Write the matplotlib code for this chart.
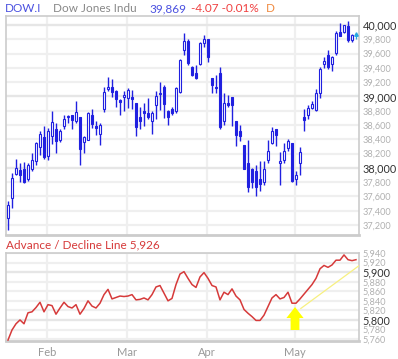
import matplotlib.pyplot as plt
from matplotlib.patches import FancyArrow

plt.rcParams['font.family'] = ['Lato', 'DejaVu Sans']

# daily candles, Jan 18 .. May 21 (trading days)
opens = [37298, 37578, 37914, 37970, 37980, 37849, 37989, 38091, 38297, 38428,
         38166, 38446, 38549, 38390, 38586, 38710, 38735, 38661, 38707, 38362,
         38390, 38745, 38586, 38474, 38829, 39100, 39137, 39081, 38950, 38996,
         38978, 38987, 38903, 38717, 38791, 38773, 38651, 38875, 39034, 39137,
         38800, 38829, 38801, 39062, 39650, 39771, 39417, 39333, 39454, 39753,
         39799, 39258, 39137, 39333, 38651, 38913, 38987, 38661, 38521, 38325,
         38073, 37988, 37951, 37849, 37802, 38110, 38353, 38549, 38063, 38110,
         38278, 38343, 37839, 38063, 38710, 38745, 38838, 38810, 39053, 39454,
         39585, 39454, 39603, 39902, 39902, 39986, 39790]
highs = [37531, 37933, 38119, 38073, 38082, 38073, 38213, 38362, 38511, 38586,
         38558, 38791, 38623, 38549, 38745, 38745, 38745, 38931, 38707, 38446,
         38782, 38819, 38661, 38623, 39137, 39277, 39239, 39090, 38959, 39071,
         39118, 39090, 38903, 38857, 38903, 38978, 38791, 39071, 39202, 39155,
         38810, 38847, 39137, 39529, 39883, 39809, 39430, 39435, 39762, 39855,
         39809, 39258, 39305, 39417, 39043, 39015, 38990, 38661, 38595, 38325,
         38390, 37998, 38045, 38091, 38101, 38390, 38567, 38549, 38222, 38343,
         38409, 38353, 37951, 38297, 38820, 38885, 38941, 39100, 39407, 39547,
         39650, 39566, 39921, 40033, 40005, 40061, 39874]
lows = [37130, 37443, 37895, 37802, 37783, 37811, 37951, 38045, 38175, 38119,
        38110, 38334, 38213, 38362, 38549, 38633, 38549, 38633, 38035, 38213,
        38390, 38558, 38455, 38325, 38782, 39071, 38996, 38857, 38735, 38791,
        38838, 38829, 38446, 38549, 38586, 38679, 38474, 38689, 38810, 38698,
        38605, 38735, 38763, 39043, 39575, 39445, 39280, 39239, 39445, 39697,
        39482, 39043, 39053, 38549, 38605, 38847, 38586, 38306, 38371, 37979,
        37662, 37718, 37606, 37671, 37765, 38063, 38334, 38306, 37755, 38073,
        38241, 37802, 37764, 37895, 38510, 38679, 38829, 38791, 38978, 39398,
        39389, 39351, 39585, 39846, 39883, 39762, 39762]
closes = [37475, 37858, 37998, 37905, 37802, 38045, 38110, 38343, 38474, 38147,
          38521, 38642, 38371, 38521, 38679, 38726, 38670, 38782, 38259, 38428,
          38773, 38614, 38558, 38605, 39062, 39131, 39062, 38959, 38922, 39015,
          39090, 38968, 38577, 38651, 38773, 38707, 38773, 39006, 39053, 38894,
          38717, 38773, 39118, 39510, 39781, 39463, 39295, 39258, 39753, 39799,
          39557, 39165, 39118, 38577, 38903, 38875, 38885, 38465, 38446, 37988,
          37727, 37802, 37737, 37774, 37988, 38241, 38511, 38465, 38101, 38241,
          38371, 37811, 37905, 38222, 38675, 38838, 38894, 39053, 39389, 39501,
          39417, 39547, 39893, 39846, 39995, 39790, 39865]
last_price = 39865

# advance / decline line (one value per day, last one is today)
ad_line = [5758, 5779, 5792, 5800, 5792, 5815, 5817, 5826, 5837, 5817,
           5832, 5830, 5812, 5825, 5837, 5828, 5825, 5832, 5812, 5824,
           5840, 5829, 5825, 5835, 5853, 5864, 5844, 5847, 5850, 5849,
           5850, 5853, 5842, 5843, 5846, 5842, 5853, 5869, 5872, 5856,
           5840, 5845, 5874, 5896, 5901, 5887, 5874, 5868, 5890, 5899,
           5887, 5872, 5869, 5842, 5858, 5853, 5865, 5850, 5842, 5822,
           5814, 5807, 5799, 5799, 5810, 5828, 5846, 5853, 5844, 5847,
           5858, 5835, 5835, 5844, 5854, 5864, 5874, 5887, 5907, 5914,
           5910, 5915, 5925, 5925, 5936, 5926, 5924, 5926]

month_labels = ['Feb', 'Mar', 'Apr', 'May']
month_first_day = [10, 30, 50, 72]

price_ticks = list(range(37200, 40001, 200))
ad_ticks = list(range(5760, 5941, 20))

trend_x = [73.2, 88.0]
trend_y = [5824, 5915]

blue = '#2020e0'
grid_c = '#efefef'
frame_c = '#cccccc'

fig = plt.figure(figsize=(3.98, 3.59), dpi=100)
ax = fig.add_axes([6 / 398, 124 / 359, 353 / 398, 219 / 359])
ax2 = fig.add_axes([6 / 398, 18 / 359, 353 / 398, 88 / 359])

month_x = [m - 0.25 for m in month_first_day]

# ---- price panel
for i in range(len(opens)):
    o, h, l, c = opens[i], highs[i], lows[i], closes[i]
    ax.vlines(i, l, h, color=blue, lw=1.0, zorder=3)
    body = max(abs(c - o), 12)
    ax.bar(i, body, bottom=min(o, c), width=0.62,
           facecolor='white' if c >= o else blue, edgecolor=blue, lw=0.8, zorder=4)

n = len(opens)
ax.vlines(n, last_price - 60, last_price + 5, color='#29a8e0', lw=0.9, zorder=4)
ax.plot([n], [last_price + 10], marker='^', ms=2.5, color='#29a8e0', zorder=4)

ax.set_xlim(-0.5, 87.75)
ax.set_ylim(37060, 40126)
ax.set_yticks(price_ticks)
ax.set_xticks(month_x)
ax.set_xticklabels([])
ax.yaxis.tick_right()
ax.tick_params(length=0, pad=2.5)
ax.set_yticklabels([f'{t:,}' for t in price_ticks])
for t, lab in zip(price_ticks, ax.get_yticklabels()):
    if t % 1000 == 0:
        lab.set_color('#333333')
        lab.set_fontsize(7.8)
    else:
        lab.set_color('#b0b0b0')
        lab.set_fontsize(6.6)
ax.grid(True, color=grid_c, lw=1.6)
for t in price_ticks:
    if t % 1000 == 0:
        ax.axhline(t, color='#e6e6e6', lw=1.6, zorder=1)
ax.set_axisbelow(True)
for s in ax.spines.values():
    s.set_color(frame_c)
    s.set_linewidth(1.2)
ax.spines['bottom'].set_linewidth(2)

# header
hy = 1 - 8.5 / 359
fig.text(5 / 398, hy, 'DOW.I', color='#4a50e0', fontsize=8.5, va='center')
fig.text(53 / 398, hy, 'Dow Jones Indu', color='#888888', fontsize=8.5, va='center')
fig.text(149 / 398, hy, '39,869', color='#4a50e0', fontsize=8.5, va='center')
fig.text(191 / 398, hy, '-4.07 -0.01%', color='#f04040', fontsize=8.5, va='center')
fig.text(266 / 398, hy, 'D', color='#f08a40', fontsize=8.5, va='center')

# ---- advance / decline panel
ax2.plot(range(len(ad_line)), ad_line, color='#d63a3a', lw=1.1, zorder=3)
ax2.plot(trend_x, trend_y, color='#f7f080', lw=0.9, zorder=3)
ax2.add_patch(FancyArrow(month_x[3], 5779, 0, 48, width=2.2, head_width=4.3,
                         head_length=23, length_includes_head=True,
                         color='#ffff00', lw=0, zorder=4))
ax2.set_xlim(-0.5, 87.75)
ax2.set_ylim(5756, 5940)
ax2.set_yticks(ad_ticks)
ax2.yaxis.tick_right()
ax2.set_yticklabels([f'{t:,}' for t in ad_ticks])
for t, lab in zip(ad_ticks, ax2.get_yticklabels()):
    if t % 100 == 0:
        lab.set_color('#333333')
        lab.set_fontsize(7.8)
    else:
        lab.set_color('#b0b0b0')
        lab.set_fontsize(6.6)
ax2.set_xticks(month_x)
ax2.set_xticklabels(month_labels, color='#999999', fontsize=8)
ax2.tick_params(length=0, pad=2.5)
ax2.tick_params(axis='x', pad=4)
ax2.grid(True, color=grid_c, lw=1.6)
for t in ad_ticks:
    if t % 100 == 0:
        ax2.axhline(t, color='#e6e6e6', lw=1.6, zorder=1)
ax2.set_axisbelow(True)
for s in ax2.spines.values():
    s.set_color(frame_c)
    s.set_linewidth(1.2)
ax2.spines['bottom'].set_linewidth(2)

fig.text(6 / 398, 1 - 244.5 / 359, f'Advance / Decline Line {ad_line[-1]:,}',
         color='#d63a3a', fontsize=8.5, va='center')

fig.savefig('out.png', dpi=100)
